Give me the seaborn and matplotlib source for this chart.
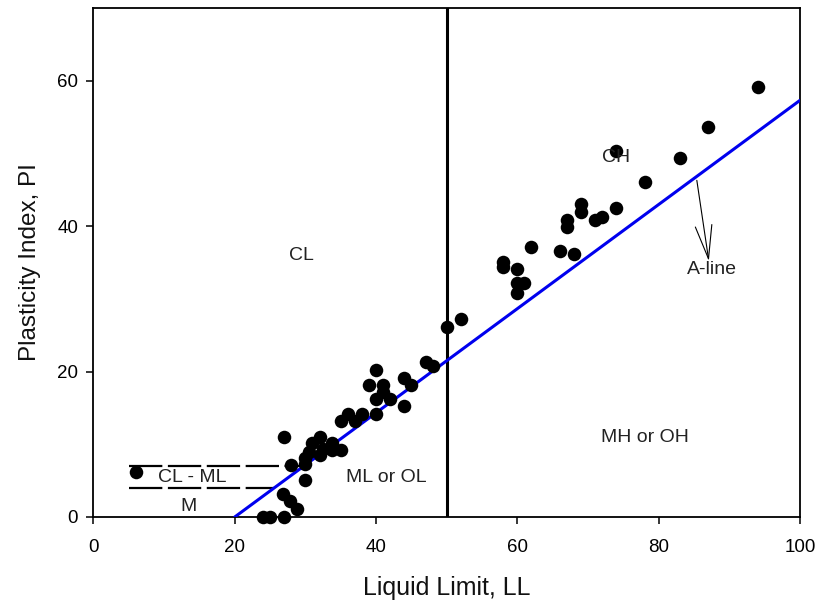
import matplotlib
matplotlib.use("Agg")
import matplotlib.pyplot as plt
import seaborn as sns
import pandas as pd
from matplotlib import font_manager

# Atterberg limit test results
liquid_limit = [6, 24, 25, 27, 26.8, 27.8, 28.8, 27, 28, 29.9,
                30, 30, 30.5, 31, 32, 32, 32.5, 33.7, 33.7, 35,
                35, 36, 37, 38, 39, 40, 41, 41, 40, 42,
                40, 44, 45, 44, 47, 48, 50, 52,
                58, 58, 60, 60, 61, 60, 62, 66, 68, 67,
                67, 69, 69, 71, 72, 74, 74, 78, 83, 87, 94]
plasticity_index = [6.2, 0, 0, 0, 3.2, 2.2, 1.1, 11, 7.2, 5.1,
                    8.1, 7.3, 9.0, 10.2, 11.0, 8.5, 9.3, 10.2, 9.2, 9.2,
                    13.2, 14.2, 13.2, 14.2, 18.2, 20.2, 18.2, 17.2, 16.2, 16.2,
                    14.2, 19.1, 18.2, 15.2, 21.3, 20.8, 26.1, 27.2,
                    35.1, 34.4, 34.1, 32.2, 32.2, 30.8, 37.1, 36.6, 36.1, 40.8,
                    39.9, 43.1, 42.0, 40.9, 41.3, 42.5, 50.3, 46.0, 49.4, 53.6, 59.1]

# A-line end points
a_line_ll = [20, 100]
a_line_pi = [0, 57.3]

# CL-ML band limits
band_pi = [7, 4]
band_start_ll = 5
band_end_ll = [29.6, 25.5]

# Zone names
zone_names = ["CL", "CH", "A-line", "MH or OH", "ML or OL", "CL - ML", "M"]
zone_ll = [29.5, 74.0, 87.5, 78.0, 41.5, 14.0, 13.5]
zone_pi = [36.0, 49.5, 34.0, 10.9, 5.4, 5.4, 1.4]

x_ticks = [0, 20, 40, 60, 80, 100]
y_ticks = [0, 20, 40, 60]

sns.set_style("white")
available = {f.name for f in font_manager.fontManager.ttflist}
narrow = "Liberation Sans Narrow" if "Liberation Sans Narrow" in available else "Liberation Sans"
plt.rcParams["font.family"] = ["Liberation Sans", "DejaVu Sans"]

fig = plt.figure(figsize=(8.22, 6.10), dpi=100)
ax = fig.add_axes([0.1137, 0.1525, 0.8595, 0.8344])

# classification boundaries
ax.axvline(50, color="black", lw=2.2, zorder=2)
sns.lineplot(x=a_line_ll, y=a_line_pi, color="#0000ee", lw=2.2, ax=ax,
             estimator=None, sort=False, zorder=3)
for pi_val, end_ll in zip(band_pi, band_end_ll):
    ax.plot([band_start_ll, end_ll], [pi_val, pi_val], color="black", lw=1.6,
            linestyle=(0, (15, 2.5)), zorder=2)

# soil samples
df = pd.DataFrame({"LL": liquid_limit, "PI": plasticity_index})
sns.scatterplot(data=df, x="LL", y="PI", color="black", s=95, edgecolor="black",
                linewidth=0, ax=ax, zorder=4, clip_on=False)

for name, lx, ly in zip(zone_names, zone_ll, zone_pi):
    ax.text(lx, ly, name, ha="center", va="center", fontsize=14,
            family=[narrow, "DejaVu Sans"], color="#222222", zorder=5)

ax.annotate("", xy=(87.1, 35.2), xytext=(85.4, 46.3),
            arrowprops=dict(arrowstyle="->, head_length=2.4, head_width=0.6",
                            color="black", lw=0.8, mutation_scale=10,
                            shrinkA=0, shrinkB=0))

ax.set_xlim(0, 100)
ax.set_ylim(0, 70)
ax.set_xticks(x_ticks)
ax.set_yticks(y_ticks)
ax.tick_params(axis="both", direction="out", length=5, width=1.1,
               labelsize=13.5, color="black", labelcolor="black")
ax.tick_params(axis="x", pad=11)
ax.tick_params(axis="y", pad=6)
ax.tick_params(top=False, right=False, bottom=True, left=True)
for sp in ax.spines.values():
    sp.set_color("black")
    sp.set_linewidth(1.3)

ax.set_xlabel("Liquid Limit, LL", fontsize=18, family=[narrow, "DejaVu Sans"],
              labelpad=14, color="#111111")
ax.set_ylabel("Plasticity Index, PI", fontsize=17.5, family=[narrow, "DejaVu Sans"],
              labelpad=12, color="#111111")

fig.savefig("out.png", dpi=100)
